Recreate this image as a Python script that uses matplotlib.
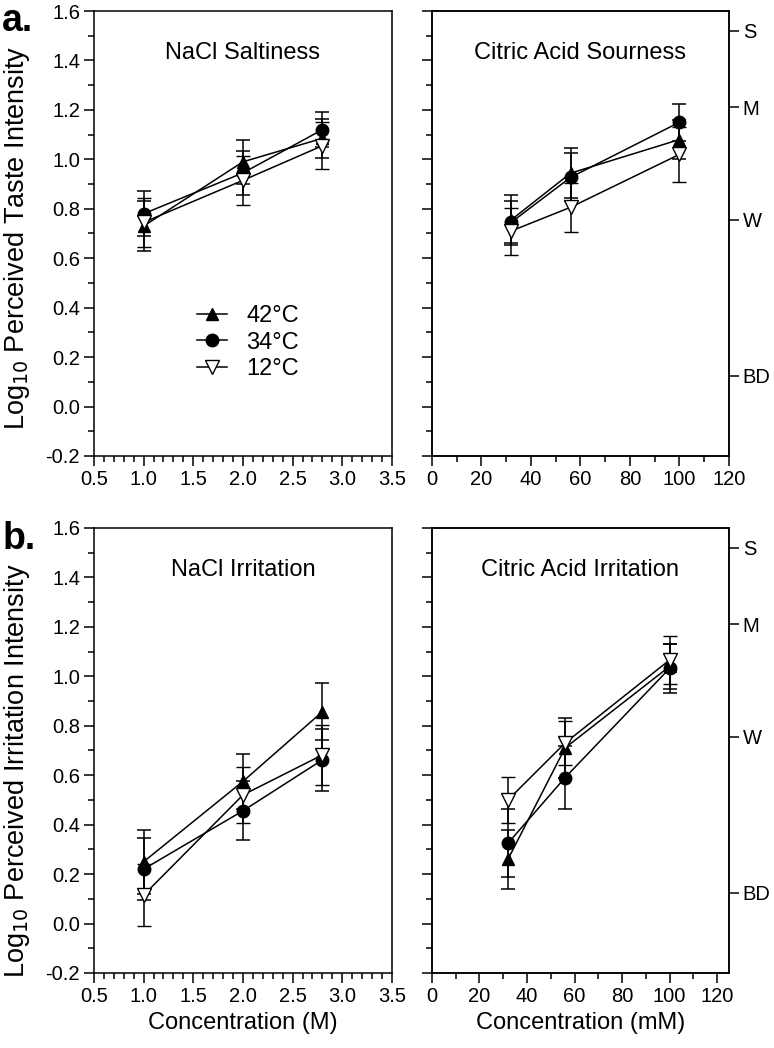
import matplotlib
matplotlib.use("Agg")
import matplotlib.pyplot as plt
from matplotlib.ticker import MultipleLocator
from matplotlib.lines import Line2D
import numpy as np

plt.rcParams["font.family"] = ["Liberation Sans", "DejaVu Sans"]
plt.rcParams["font.size"] = 14

# concentrations
nacl_conc = [1.0, 2.0, 2.8]
citric_conc = [32, 56, 100]
temps = ["42°C", "34°C", "12°C"]

# a. taste intensity (log10), mean and error
salt_mean = {"42°C": [0.73, 0.99, 1.085], "34°C": [0.78, 0.945, 1.12], "12°C": [0.745, 0.915, 1.055]}
salt_err = {"42°C": [0.10, 0.09, 0.08], "34°C": [0.09, 0.09, 0.07], "12°C": [0.10, 0.10, 0.095]}
sour_mean = {"42°C": [0.755, 0.944, 1.08], "34°C": [0.745, 0.927, 1.15], "12°C": [0.71, 0.806, 1.02]}
sour_err = {"42°C": [0.10, 0.10, 0.08], "34°C": [0.085, 0.097, 0.075], "12°C": [0.095, 0.10, 0.11]}

# b. irritation intensity (log10)
nirr_mean = {"42°C": [0.25, 0.575, 0.857], "34°C": [0.22, 0.456, 0.662], "12°C": [0.115, 0.52, 0.682]}
nirr_err = {"42°C": [0.13, 0.11, 0.115], "34°C": [0.125, 0.12, 0.125], "12°C": [0.125, 0.115, 0.12]}
cirr_mean = {"42°C": [0.26, 0.71, 1.04], "34°C": [0.325, 0.59, 1.032], "12°C": [0.50, 0.73, 1.066]}
cirr_err = {"42°C": [0.12, 0.12, 0.09], "34°C": [0.137, 0.127, 0.10], "12°C": [0.093, 0.09, 0.097]}

# gLMS labels on right side
glms_labels = ["S", "M", "W", "BD"]
glms_pos = [1.52, 1.21, 0.755, 0.125]

styles = {
    "42°C": dict(marker="^", mfc="black", mec="black", ms=8),
    "34°C": dict(marker="o", mfc="black", mec="black", ms=9),
    "12°C": dict(marker="v", mfc="white", mec="black", ms=9.5, mew=1.0),
}

fig = plt.figure(figsize=(7.74, 10.48), dpi=100)

W = 0.385
H = 0.4246
axes = {
    "a_l": fig.add_axes([0.1214, 0.5649, W, H]),
    "a_r": fig.add_axes([0.5581, 0.5649, 0.3837, H]),
    "b_l": fig.add_axes([0.1214, 0.0716, W, H]),
    "b_r": fig.add_axes([0.5581, 0.0716, 0.3837, H]),
}

def draw(ax, x, means, errs):
    for tp in temps:
        ax.errorbar(x, means[tp], yerr=errs[tp], color="black", lw=1.1,
                    elinewidth=1.1, capsize=4.8, capthick=1.1, **styles[tp])

draw(axes["a_l"], nacl_conc, salt_mean, salt_err)
draw(axes["a_r"], citric_conc, sour_mean, sour_err)
draw(axes["b_l"], nacl_conc, nirr_mean, nirr_err)
draw(axes["b_r"], citric_conc, cirr_mean, cirr_err)

yt = np.arange(-0.2, 1.61, 0.2)
for key, ax in axes.items():
    ax.set_ylim(-0.2, 1.6)
    ax.set_yticks(yt)
    ax.yaxis.set_minor_locator(MultipleLocator(0.1))
    ax.tick_params(which="major", direction="out", length=7, width=1.1, labelsize=14.5, pad=3)
    ax.tick_params(which="minor", direction="out", length=4, width=1.1)
    ax.tick_params(right=False, top=False, which="both")
    for s in ax.spines.values():
        s.set_linewidth(1.1)
    if key.endswith("_l"):
        ax.set_xlim(0.5, 3.5)
        ax.xaxis.set_major_locator(MultipleLocator(0.5))
        ax.xaxis.set_minor_locator(MultipleLocator(0.1))
        ax.set_yticklabels(["%.1f" % v for v in yt])
    else:
        ax.xaxis.set_major_locator(MultipleLocator(20))
        ax.xaxis.set_minor_locator(MultipleLocator(10))
        ax.set_yticklabels([])
        tw = ax.twinx()
        tw.set_ylim(-0.2, 1.6)
        tw.set_yticks(glms_pos)
        tw.set_yticklabels(glms_labels)
        tw.tick_params(direction="out", length=7, width=1.1, labelsize=14.5, pad=3)
        for s in tw.spines.values():
            s.set_linewidth(1.1)

axes["a_r"].set_xlim(0, 120)
axes["b_r"].set_xlim(0, 125)
axes["b_r"].set_xticks([0, 20, 40, 60, 80, 100, 120])

titles = {"a_l": "NaCl Saltiness", "a_r": "Citric Acid Sourness",
          "b_l": "NaCl Irritation", "b_r": "Citric Acid Irritation"}
for key, t in titles.items():
    axes[key].text(0.5, 0.905, t, transform=axes[key].transAxes,
                   ha="center", va="center", fontsize=17)

axes["a_l"].set_ylabel("Log$_{10}$ Perceived Taste Intensity", fontsize=19.5)
axes["b_l"].set_ylabel("Log$_{10}$ Perceived Irritation Intensity", fontsize=19.5)
axes["a_l"].yaxis.set_label_coords(-0.208, 0.49)
axes["b_l"].yaxis.set_label_coords(-0.208, 0.455)
axes["b_l"].set_xlabel("Concentration (M)", fontsize=17)
axes["b_r"].set_xlabel("Concentration (mM)", fontsize=17)
for key in ["b_l", "b_r"]:
    axes[key].xaxis.set_label_coords(0.5, -0.087)

handles = [Line2D([], [], color="black", lw=1.1, **styles[tp]) for tp in temps]
axes["a_l"].legend(handles, temps, loc="center left", bbox_to_anchor=(0.305, 0.255),
                   frameon=False, fontsize=17, handlelength=1.3, handletextpad=0.8,
                   labelspacing=0.2, borderpad=0)

fig.text(0.003, 0.997, "a.", fontsize=27, fontweight="bold", va="top")
fig.text(0.003, 0.503, "b.", fontsize=27, fontweight="bold", va="top")

fig.savefig("out.png", dpi=100)
